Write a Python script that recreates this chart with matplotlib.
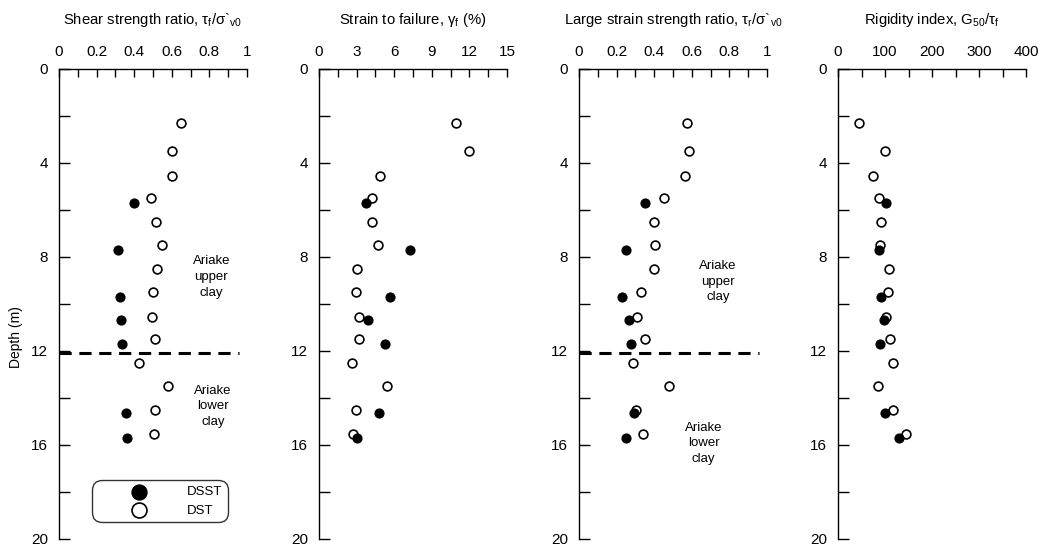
import numpy as np
import matplotlib
matplotlib.use("Agg")
import matplotlib.pyplot as plt
from matplotlib.ticker import MultipleLocator

plt.rcParams["font.family"] = ["Liberation Sans", "DejaVu Sans"]
plt.rcParams["mathtext.fontset"] = "custom"
plt.rcParams["mathtext.rm"] = "Liberation Sans"
plt.rcParams["mathtext.it"] = "Liberation Sans"
plt.rcParams["mathtext.default"] = "regular"

# ==================================================
# data
# ==================================================
DEPTH_DST = [2.3, 3.5, 4.55, 5.5, 6.5, 7.5, 8.5, 9.5, 10.55, 11.5, 12.5, 13.5, 14.5, 15.55]
DEPTH_DSST = [5.7, 7.7, 9.7, 10.7, 11.7, 14.65, 15.7]

SU_RATIO_DST = [0.65, 0.60, 0.60, 0.49, 0.515, 0.55, 0.52, 0.50, 0.495, 0.51, 0.425, 0.58, 0.51, 0.505]
SU_RATIO_DSST = [0.40, 0.315, 0.325, 0.33, 0.335, 0.355, 0.36]

STRAIN_DST = [10.95, 12.0, 4.9, 4.2, 4.2, 4.7, 3.05, 2.95, 3.2, 3.2, 2.65, 5.45, 2.95, 2.7]
STRAIN_DSST = [3.75, 7.25, 5.65, 3.9, 5.25, 4.8, 3.05]

LARGE_RATIO_DST = [0.575, 0.585, 0.565, 0.45, 0.40, 0.405, 0.40, 0.33, 0.31, 0.35, 0.285, 0.48, 0.305, 0.34]
LARGE_RATIO_DSST = [0.35, 0.25, 0.23, 0.265, 0.275, 0.29, 0.25]

RIGIDITY_DST = [45, 100, 74, 88, 92, 90, 108, 107, 103, 111, 118, 85, 116, 145]
RIGIDITY_DSST = [102, 87, 92, 98, 89, 101, 130]

DEPTH_BOUNDARY = 12.1

TITLES = [
    r"Shear strength ratio, $\tau_f/\sigma$`$_{v0}$",
    r"Strain to failure, $\gamma_f$ (%)",
    r"Large strain strength ratio, $\tau_r/\sigma$`$_{v0}$",
    r"Rigidity index, G$_{50}$/$\tau_f$",
]
XMAX = [1, 15, 1, 400]
XMAJOR = [0.2, 3, 0.2, 100]
XMINOR = [0.1, 1.5, 0.1, 50]

# ==================================================
# figure
# ==================================================
W, H = 1044, 548
fig = plt.figure(figsize=(W / 100, H / 100), dpi=100)

lefts = [59, 319, 579, 838]
ax_w, ax_top, ax_bot = 188, 69, 539

series = [
    (SU_RATIO_DSST, SU_RATIO_DST),
    (STRAIN_DSST, STRAIN_DST),
    (LARGE_RATIO_DSST, LARGE_RATIO_DST),
    (RIGIDITY_DSST, RIGIDITY_DST),
]

axes = []
for i, (l, (dsst, dst)) in enumerate(zip(lefts, series)):
    ax = fig.add_axes([l / W, 1 - ax_bot / H, ax_w / W, (ax_bot - ax_top) / H])
    axes.append(ax)

    ax.scatter(dsst, DEPTH_DSST, s=40, facecolor="black", edgecolor="black",
               linewidth=1.0, zorder=4, label="DSST")
    ax.scatter(dst, DEPTH_DST, s=40, facecolor="white", edgecolor="black",
               linewidth=1.2, zorder=3, label="DST")

    ax.set_xlim(0, XMAX[i])
    ax.set_ylim(20, 0)
    ax.xaxis.tick_top()
    ax.xaxis.set_major_locator(MultipleLocator(XMAJOR[i]))
    ax.xaxis.set_minor_locator(MultipleLocator(XMINOR[i]))
    ax.yaxis.set_major_locator(MultipleLocator(4))
    ax.yaxis.set_minor_locator(MultipleLocator(2))
    ax.tick_params(axis="x", which="both", direction="in", length=6, width=1,
                   pad=7, labelsize=11)
    ax.tick_params(axis="y", which="both", direction="in", length=8, width=1,
                   pad=8, labelsize=11)
    ax.xaxis.set_major_formatter(plt.FuncFormatter(lambda v, p: f"{v:g}"))
    for s in ("right", "bottom"):
        ax.spines[s].set_visible(False)
    for s in ("left", "top"):
        ax.spines[s].set_linewidth(1)
    ax.set_title(TITLES[i], fontsize=10.7, pad=15)

# boundary between upper and lower clay
for ax, xmax in ((axes[0], 0.96), (axes[2], 0.955)):
    ax.axhline(DEPTH_BOUNDARY, xmin=0, xmax=xmax, color="black", lw=2.2,
               dashes=(4, 2.5), zorder=2)

note_kw = dict(ha="center", va="center", fontsize=9.5, linespacing=1.4)
axes[0].text(0.81, 8.85, "Ariake\nupper\nclay", **note_kw)
axes[0].text(0.82, 14.35, "Ariake\nlower\nclay", **note_kw)
axes[2].text(0.74, 9.05, "Ariake\nupper\nclay", **note_kw)
axes[2].text(0.662, 15.93, "Ariake\nlower\nclay", **note_kw)

leg = axes[0].legend(loc="lower left", bbox_to_anchor=(0.174, 0.036),
                     borderaxespad=0, fontsize=9.5, markerscale=1.7,
                     handlelength=6.4, handletextpad=0.42, borderpad=0.4,
                     labelspacing=0.5, frameon=True, fancybox=True)
frame = leg.get_frame()
frame.set_edgecolor("black")
frame.set_linewidth(1)
frame.set_boxstyle("round,pad=0,rounding_size=0.75")

fig.text(15.7 / W, 1 - 337 / H, "Depth (m)", rotation=90, ha="center",
         va="center", fontsize=10)

fig.savefig("out.png", dpi=100)
